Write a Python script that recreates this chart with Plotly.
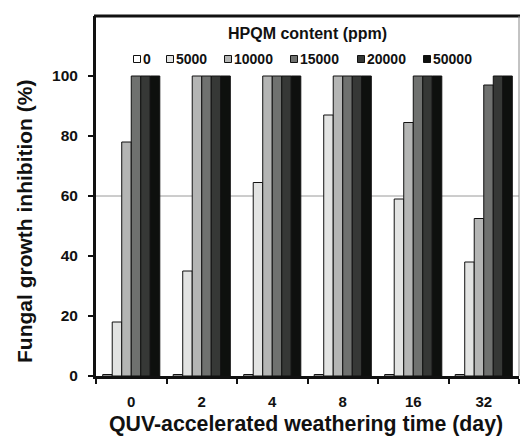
import plotly.graph_objects as go

days = ["0", "2", "4", "8", "16", "32"]
series_names = ["0", "5000", "10000", "15000", "20000", "50000"]
v0 = [0.5, 0.5, 0.5, 0.5, 0.5, 0.5]
v5000 = [18, 35, 64.5, 87, 59, 38]
v10000 = [78, 100, 100, 100, 84.5, 52.5]
v15000 = [100, 100, 100, 100, 100, 97]
v20000 = [100, 100, 100, 100, 100, 100]
v50000 = [100, 100, 100, 100, 100, 100]
series_values = [v0, v5000, v10000, v15000, v20000, v50000]
colors = ["#ffffff", "#e2e3e2", "#b4b5b4", "#6f716f", "#363836", "#0e100e"]

legend_title = "HPQM content (ppm)"
x_title = "QUV-accelerated weathering time (day)"
y_title = "Fungal growth inhibition (%)"

FONT = "Liberation Sans, Arial, sans-serif"
W, H = 520, 437
ML, MR, MT, MB = 96, 1, 16, 61
PW, PH = W - ML - MR, H - MT - MB


def px_x(p):
    return (p - ML) / PW


def px_y(p):
    return (H - MB - p) / PH


fig = go.Figure()
for name, vals, col in zip(series_names, series_values, colors):
    fig.add_trace(go.Bar(
        x=days, y=vals, name=name, showlegend=False,
        marker=dict(color=col, line=dict(color="#111111", width=1)),
    ))

fig.update_layout(
    width=W, height=H,
    margin=dict(l=ML, r=MR, t=MT, b=MB),
    paper_bgcolor="white", plot_bgcolor="white",
    barmode="group", bargap=0.19, bargroupgap=0,
    font=dict(family=FONT, color="#111111", weight="bold"),
    xaxis=dict(
        type="category", tickson="boundaries", ticks="outside",
        ticklen=5, tickwidth=2, tickcolor="#111111",
        showline=True, linewidth=2.5, linecolor="#111111",
        tickfont=dict(size=15, family=FONT, weight="bold"),
        ticklabelstandoff=10,
        showgrid=False, zeroline=False, automargin=False,
    ),
    yaxis=dict(
        range=[0, 120], tickvals=[0, 20, 40, 60, 80, 100],
        ticks="outside", ticklen=5, tickwidth=2, tickcolor="#111111",
        showline=True, linewidth=3, linecolor="#111111",
        tickfont=dict(size=15.5, family=FONT, weight="bold"),
        ticklabelstandoff=7,
        showgrid=False, zeroline=False, automargin=False,
    ),
)

# x-axis title
fig.add_annotation(text=x_title, xref="paper", yref="paper",
                   x=px_x(306), y=px_y(424), xanchor="center", yanchor="middle",
                   showarrow=False,
                   font=dict(size=21.3, family=FONT, weight="bold"))

# y-axis title (placed like the reference, slightly below the plot centre)
fig.add_annotation(text=y_title, textangle=-90, xref="paper", yref="paper",
                   x=px_x(24), y=px_y(222), xanchor="center", yanchor="middle",
                   showarrow=False,
                   font=dict(size=21, family=FONT, weight="bold"))

# legend (title + entries), drawn in the plot's upper area
fig.add_annotation(text=legend_title, xref="paper", yref="paper",
                   x=px_x(307), y=px_y(33), xanchor="center", yanchor="middle",
                   showarrow=False,
                   font=dict(size=16, family=FONT, weight="bold"))
legend_sq_x = [137, 170, 228, 294, 361, 427]
for name, col, sx in zip(series_names, colors, legend_sq_x):
    fig.add_shape(type="rect", xref="paper", yref="paper",
                  x0=px_x(sx - 3.5), x1=px_x(sx + 3.5),
                  y0=px_y(59 + 3.5), y1=px_y(59 - 3.5),
                  fillcolor=col, line=dict(color="#111111", width=1))
    fig.add_annotation(text=name, xref="paper", yref="paper",
                       x=px_x(sx + 4), y=px_y(59), xanchor="left",
                       yanchor="middle", showarrow=False,
                       font=dict(size=14, family=FONT, weight="bold"))

fig.add_hline(y=60, line=dict(color="#9a9a9a", width=1), layer="below")
fig.add_shape(type="line", xref="paper", yref="paper", x0=px_x(94), x1=px_x(520),
              y0=1, y1=1, line=dict(color="#111111", width=3))
fig.add_shape(type="line", xref="paper", yref="paper", x0=1, x1=1, y0=0, y1=1,
              line=dict(color="#888888", width=1))

fig.write_html("out.html", config={"displayModeBar": False},
               post_script="document.body.style.margin='0';")
